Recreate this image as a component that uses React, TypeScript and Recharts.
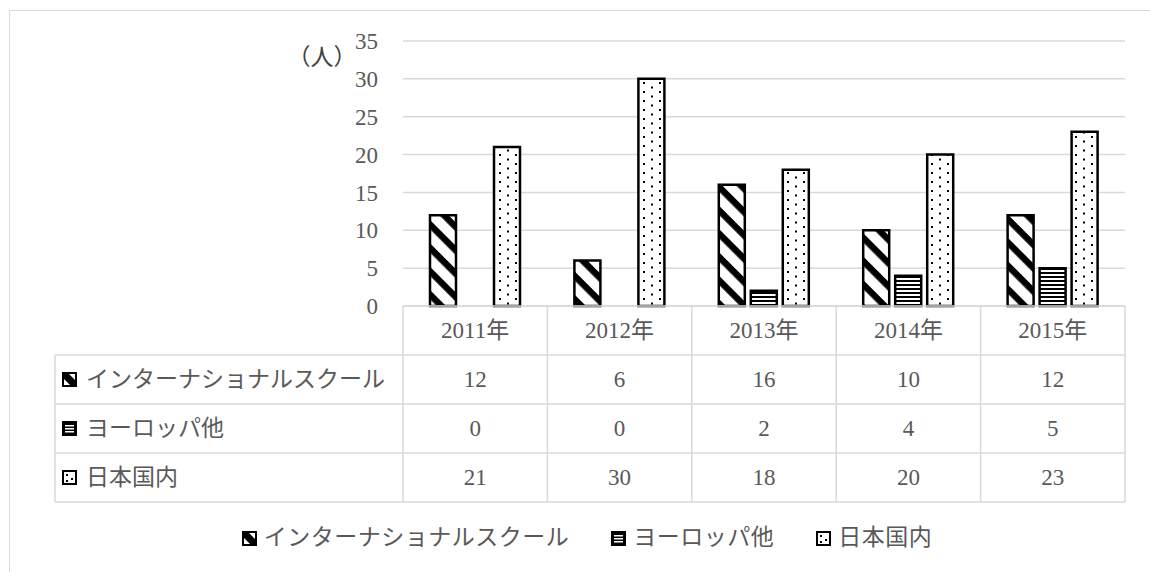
import React from 'react';
import { BarChart, Bar, XAxis, YAxis, CartesianGrid } from 'recharts';

const years = ['2011年', '2012年', '2013年', '2014年', '2015年'];
const international = [12, 6, 16, 10, 12];
const europe = [0, 0, 2, 4, 5];
const domestic = [21, 30, 18, 20, 23];
const seriesNames = ['インターナショナルスクール', 'ヨーロッパ他', '日本国内'];
const yTicks = [0, 5, 10, 15, 20, 25, 30, 35];

const data = years.map((year, i) => ({
  year,
  international: international[i],
  europe: europe[i],
  domestic: domestic[i],
}));

const W = 1150;
const H = 572;
const PLOT_LEFT = 403;
const PLOT_RIGHT = 25;
const PLOT_TOP = 41;
const AXIS_H = 266;
const BAND = (W - PLOT_LEFT - PLOT_RIGHT) / years.length;
const ROW_H = 49;
const TABLE_LEFT = 55;
const GRID = '#d9d9d9';
const TEXT = '#595959';
const FONT = '"Liberation Serif", "Noto Sans CJK JP", serif';

const seriesKeys = ['international', 'europe', 'domestic'] as const;
const tableRows = [international, europe, domestic];
const fills = ['url(#pDiag)', 'url(#pHoriz)', 'url(#pDots)'];

function Icon({ kind, x, y }: { kind: number; x: number; y: number }) {
  const s = 13;
  return (
    <g transform={`translate(${x},${y})`}>
      {kind === 0 && (
        <>
          <rect x={0} y={0} width={s} height={s} fill="#fff" stroke="#000" strokeWidth={2} />
          <polygon points={`1,1 6,1 12,7 12,12 7,12 1,6`} fill="#000" />
        </>
      )}
      {kind === 1 && (
        <>
          <rect x={0} y={0} width={s} height={s} fill="#000" stroke="#000" strokeWidth={2} />
          <rect x={2} y={3} width={9} height={1.5} fill="#fff" />
          <rect x={2} y={6} width={9} height={1.5} fill="#fff" />
          <rect x={2} y={9} width={9} height={1.5} fill="#fff" />
        </>
      )}
      {kind === 2 && (
        <>
          <rect x={0} y={0} width={s} height={s} fill="#fff" stroke="#000" strokeWidth={2} />
          <rect x={3} y={3} width={2} height={2} fill="#000" />
          <rect x={8} y={7} width={2} height={2} fill="#000" />
          <rect x={3} y={9} width={2} height={2} fill="#000" />
        </>
      )}
    </g>
  );
}

function TableTick(props: any) {
  const { x, y, payload, index } = props;
  const left = x - BAND / 2;
  const right = x + BAND / 2;
  const bottom = y + ROW_H * 4;
  const rowY = [1, 2, 3, 4].map((r) => y + ROW_H * r);
  return (
    <g>
      <line x1={left} y1={y} x2={left} y2={bottom} stroke={GRID} strokeWidth={1.5} />
      {index === years.length - 1 && (
        <line x1={right} y1={y} x2={right} y2={bottom} stroke={GRID} strokeWidth={1.5} />
      )}
      {rowY.map((ry) => (
        <line key={ry} x1={left} y1={ry} x2={right} y2={ry} stroke={GRID} strokeWidth={1.5} />
      ))}
      <text x={x} y={y + ROW_H / 2} textAnchor="middle" dominantBaseline="central" fill={TEXT} fontSize={23} fontFamily={FONT}>
        {payload.value}
      </text>
      {tableRows.map((row, r) => (
        <text key={r} x={x} y={y + ROW_H * (r + 1.5)} textAnchor="middle" dominantBaseline="central" fill={TEXT} fontSize={23} fontFamily={FONT}>
          {row[index]}
        </text>
      ))}
      {index === 0 && (
        <g>
          <line x1={TABLE_LEFT} y1={y + ROW_H} x2={TABLE_LEFT} y2={bottom} stroke={GRID} strokeWidth={1.5} />
          {rowY.map((ry) => (
            <line key={ry} x1={TABLE_LEFT} y1={ry} x2={left} y2={ry} stroke={GRID} strokeWidth={1.5} />
          ))}
          {seriesNames.map((name, r) => (
            <g key={name}>
              <Icon kind={r} x={63} y={y + ROW_H * (r + 1.5) - 6.5} />
              <text x={86} y={y + ROW_H * (r + 1.5)} dominantBaseline="central" fill={TEXT} fontSize={23} fontFamily={FONT}>
                {name}
              </text>
            </g>
          ))}
        </g>
      )}
    </g>
  );
}

export default function App() {
  return (
    <div style={{ position: 'absolute', left: 0, top: 0, width: W, height: H, overflow: 'hidden', background: '#fff', fontFamily: FONT }}>
      <div style={{ position: 'absolute', left: 9, top: 10, width: W + 20, height: H + 20, border: `1.5px solid ${GRID}` }} />
      <div style={{ position: 'absolute', left: 0, top: 0 }}>
        <BarChart
          width={W}
          height={H}
          data={data}
          margin={{ top: PLOT_TOP, right: PLOT_RIGHT, left: 0, bottom: 0 }}
          barSize={26}
          barGap={6}
        >
          <defs>
            <pattern id="pDiag" patternUnits="userSpaceOnUse" width={16.5} height={16.5} patternTransform="rotate(45)">
              <rect width={16.5} height={16.5} fill="#fff" />
              <rect width={16.5} height={6.5} fill="#000" />
            </pattern>
            <pattern id="pHoriz" patternUnits="userSpaceOnUse" width={8} height={4}>
              <rect width={8} height={4} fill="#fff" />
              <rect width={8} height={2} fill="#000" />
            </pattern>
            <pattern id="pDots" patternUnits="userSpaceOnUse" width={16} height={9}>
              <rect width={16} height={9} fill="#fff" />
              <rect x={3} y={1} width={2} height={2} fill="#000" />
              <rect x={11} y={5.5} width={2} height={2} fill="#000" />
            </pattern>
          </defs>
          <CartesianGrid vertical={false} stroke={GRID} strokeWidth={1.5} />
          <XAxis
            dataKey="year"
            height={AXIS_H}
            interval={0}
            tickLine={false}
            tickSize={0}
            tickMargin={0}
            axisLine={{ stroke: GRID, strokeWidth: 1.5 }}
            tick={<TableTick />}
          />
          <YAxis
            width={PLOT_LEFT}
            domain={[0, 35]}
            ticks={yTicks}
            axisLine={false}
            tickLine={false}
            tickSize={0}
            tickMargin={25}
            tick={{ fill: TEXT, fontSize: 23, fontFamily: FONT }}
          />
          {seriesKeys.map((k, i) => (
            <Bar key={k} dataKey={k} name={seriesNames[i]} fill={fills[i]} stroke="#000" strokeWidth={2.5} isAnimationActive={false} />
          ))}
          <text x={322} y={57} textAnchor="middle" dominantBaseline="central" fill="#404040" fontSize={23} fontFamily={FONT}>
            （人）
          </text>
        </BarChart>
      </div>
      <div style={{ position: 'absolute', left: 0, width: W + 24, top: 524, display: 'flex', justifyContent: 'center', gap: 42, color: TEXT, fontSize: 23, lineHeight: '28px', letterSpacing: 0.5 }}>
        {seriesNames.map((name, i) => (
          <div key={name} style={{ display: 'flex', alignItems: 'center', gap: 7 }}>
            <svg width={15} height={15}>
              <Icon kind={i} x={1} y={1} />
            </svg>
            <span>{name}</span>
          </div>
        ))}
      </div>
    </div>
  );
}
